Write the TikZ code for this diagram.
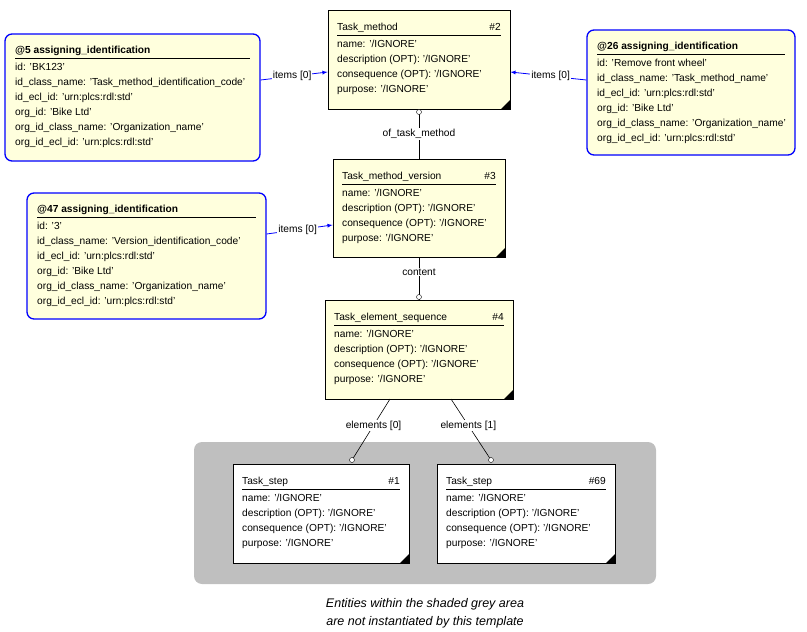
\documentclass[tikz,border=0pt]{standalone}
\usepackage{fontspec}
\setmainfont{Liberation Sans}
\usetikzlibrary{fit}
\definecolor{ly}{RGB}{255,255,221}
\definecolor{bl}{RGB}{0,0,255}
\begin{document}
\begin{tikzpicture}[x=1pt,y=-1pt,font=\fontsize{10.2}{15}\selectfont,
  box/.style={draw=black,line width=0.8pt,inner sep=0pt},
  abox/.style={draw=bl,line width=1.3pt,rounded corners=7pt,fill=ly,inner sep=0pt},
  txt/.style={anchor=base west,align=left,inner sep=0pt},
  body/.style={anchor=north west,align=left,inner sep=0pt},
  rel/.style={draw=black,line width=0.6pt},
  ref/.style={draw=bl,line width=0.8pt,-latex},
  lab/.style={fill=white,inner sep=1pt},
  circ/.style={circle,draw=black,fill=white,inner sep=0pt,minimum size=5pt}]
\useasboundingbox (0,0) rectangle (807,632);
\newcommand\ent[8]{%
  \node (#1) [box,fill=#8,fit={(#2,#3)(#4,#5)}] {};
  \fill (#4,#5) -- (#4-9,#5) -- (#4,#5-9) -- cycle;
  \node (#1t) [txt] at (#2+9,#3+20) {#6};
  \node (#1n) [txt,anchor=base east] at (#4-9,#3+20) {#7};
  \draw (#2+9,#3+25) -- (#4-9,#3+25);
  \node (#1b) [body] at (#2+9,#3+30) {name: '/IGNORE'\\description (OPT): '/IGNORE'\\consequence (OPT): '/IGNORE'\\purpose: '/IGNORE'};}
\newcommand\asg[8]{%
  \node (#1) [abox,fit={(#2,#3)(#4,#5)}] {};
  \node (#1t) [txt,font=\fontsize{10.2}{15}\selectfont\bfseries] at (#2+10,#3+19) {#6};
  \draw (#2+10,#3+24) -- (#4-10,#3+24);
  \node (#1b) [body] at (#2+10,#3+29) {id: #7\\id\_class\_name: #8\\id\_ecl\_id: 'urn:plcs:rdl:std'\\org\_id: 'Bike Ltd'\\org\_id\_class\_name: 'Organization\_name'\\org\_id\_ecl\_id: 'urn:plcs:rdl:std'};}
% grey area
\node (grey) [fill=black!25,rounded corners=8pt,inner sep=0pt,fit={(194,442)(656,584)}] {};
\ent{tm}{328}{10}{510}{109}{Task\_method}{\#2}{ly}
\ent{tmv}{333}{159}{505}{257}{Task\_method\_version}{\#3}{ly}
\ent{tes}{325}{300}{513}{399}{Task\_element\_sequence}{\#4}{ly}
\ent{ts1}{233}{464}{409}{563}{Task\_step}{\#1}{white}
\ent{ts69}{437}{464}{615}{563}{Task\_step}{\#69}{white}
\asg{a5}{5}{34}{260}{161}{@5 assigning\_identification}{'BK123'}{'Task\_method\_identification\_code'}
\asg{a47}{27}{193}{266}{319}{@47 assigning\_identification}{'3'}{'Version\_identification\_code'}
\asg{a26}{587}{30}{795}{155}{@26 assigning\_identification}{'Remove front wheel'}{'Task\_method\_name'}
% references
\draw[ref] (a5.east|-0,80) -- node[lab,pos=0.47]{items [0]} (tm.west|-0,72);
\draw[ref] (a26.west|-0,80) -- node[lab,pos=0.47]{items [0]} (tm.east|-0,72);
\draw[ref] (a47.east|-0,234) -- node[lab,pos=0.47]{items [0]} (tmv.west|-0,225);
% relations
\draw[rel] (tm.south|-0,109) -- node[lab]{of\_task\_method} (tmv.north|-0,159);
\node (c1) [circ] at (419,112) {};
\draw[rel] (tmv.south|-0,257) -- node[lab,pos=0.35]{content} (tes.north|-0,300);
\node (c2) [circ] at (419,297) {};
\coordinate (e0) at (390,399);
\coordinate (e1) at (451,399);
\node (c3) [circ] at (352,460) {};
\node (c4) [circ] at (491,460) {};
\draw[rel] (e0) -- node[lab,pos=0.45]{elements [0]} (c3);
\draw[rel] (e1) -- node[lab,pos=0.45]{elements [1]} (c4);
\node (cap) [align=center,font=\fontsize{12.5}{18}\selectfont\itshape] at (425,613) {Entities within the shaded grey area\\are not instantiated by this template};
\end{tikzpicture}
\end{document}
